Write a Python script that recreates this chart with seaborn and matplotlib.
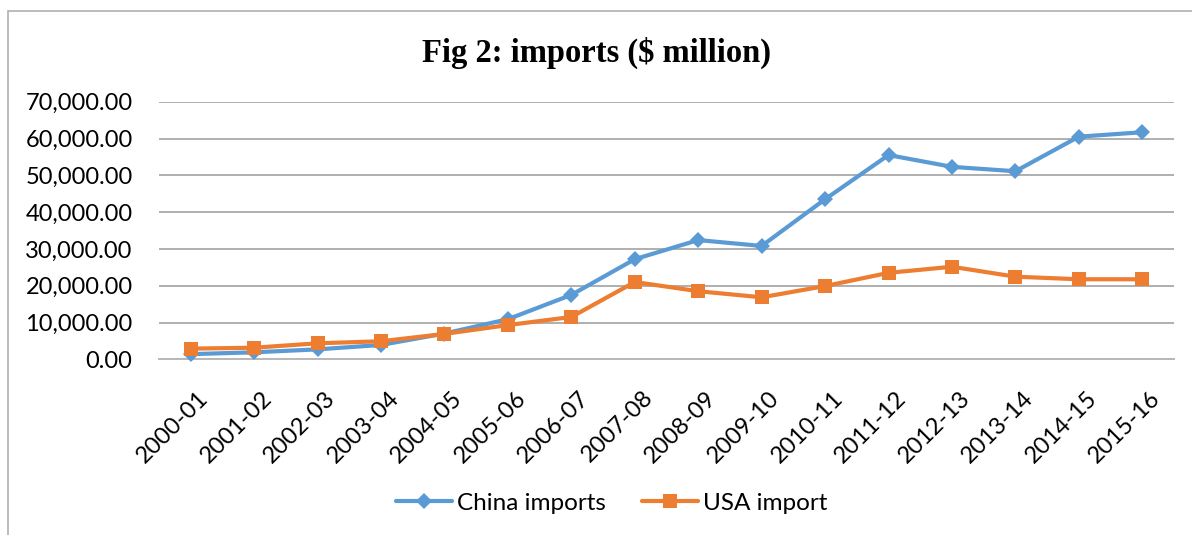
import matplotlib
matplotlib.use("Agg")
import matplotlib.pyplot as plt
import matplotlib.transforms as mtransforms
from matplotlib.patches import Rectangle
from matplotlib.ticker import FuncFormatter, MultipleLocator
import seaborn as sns
import pandas as pd

years = ["2000-01", "2001-02", "2002-03", "2003-04", "2004-05", "2005-06",
         "2006-07", "2007-08", "2008-09", "2009-10", "2010-11", "2011-12",
         "2012-13", "2013-14", "2014-15", "2015-16"]
china_imports = [1400, 1900, 2700, 3900, 7000, 10900, 17500, 27200,
                 32400, 30800, 43500, 55500, 52300, 51100, 60500, 61700]
usa_import = [2900, 3150, 4350, 4900, 6900, 9300, 11500, 21000,
              18500, 16850, 19900, 23500, 25150, 22450, 21750, 21750]
series_names = ["China imports", "USA import"]

df = pd.DataFrame({
    "year": years * 2,
    "value": china_imports + usa_import,
    "series": [series_names[0]] * len(years) + [series_names[1]] * len(years),
})

sns.set_theme(style="white")
plt.rcParams["font.family"] = ["Lato", "DejaVu Sans"]
plt.rcParams["text.color"] = "black"
plt.rcParams["xtick.color"] = "black"
plt.rcParams["ytick.color"] = "black"

fig = plt.figure(figsize=(11.92, 5.35), dpi=100)
ax = fig.add_axes([159 / 1192, 1 - 359.3 / 535, (1174 - 159) / 1192, (359.3 - 101.7) / 535])

# outer chart frame (partly off-canvas like the reference)
fig.patches.append(Rectangle((8 / 1192, -0.1), 1.2, 1 - 11 / 535 + 0.1,
                             transform=fig.transFigure, fill=False,
                             edgecolor="#b0b0b0", linewidth=1.2, zorder=0))

palette = {"China imports": "#5B9BD5", "USA import": "#ED7D31"}
markers = {"China imports": "D", "USA import": "s"}
sizes_ms = {"China imports": 8.5, "USA import": 10.5}

for name in series_names:
    sub = df[df["series"] == name]
    sns.lineplot(data=sub, x="year", y="value", ax=ax, color=palette[name],
                 marker=markers[name], markersize=sizes_ms[name],
                 markeredgewidth=0, linewidth=3.0, label=name, sort=False,
                 clip_on=False, zorder=3)

ax.set_xlim(-0.5, len(years) - 0.5)
ax.set_ylim(0, 70000)
ax.yaxis.set_major_locator(MultipleLocator(10000))
ax.yaxis.set_major_formatter(FuncFormatter(lambda v, p: f"{v:,.2f}"))
ax.grid(axis="y", color="#9a9a9a", linewidth=1.1)
ax.grid(axis="x", visible=False)
for s in ["left", "right", "top"]:
    ax.spines[s].set_visible(False)
ax.spines["bottom"].set_color("#b8b8b8")
ax.spines["bottom"].set_linewidth(1.4)
ax.set_xlabel("")
ax.set_ylabel("")
ax.tick_params(axis="y", length=0, pad=19, labelsize=17, labelcolor="black")
ax.tick_params(axis="x", length=0, pad=20, labelsize=17, labelcolor="black")
offset = mtransforms.ScaledTranslation(7 / 100, 0, fig.dpi_scale_trans)
for lab in ax.get_xticklabels():
    lab.set_rotation(45)
    lab.set_ha("right")
    lab.set_va("top")
    lab.set_rotation_mode("anchor")
    lab.set_transform(lab.get_transform() + offset)

fig.text(0.5, 1 - 53 / 535, "Fig 2: imports ($ million)", ha="center", va="center",
         fontsize=23.5, fontweight="bold", color="black",
         family=["Liberation Serif", "DejaVu Serif"])

handles, labels = ax.get_legend_handles_labels()
ax.get_legend().remove()
fig.legend(handles, labels, loc="center", bbox_to_anchor=(0.513, 1 - 503 / 535),
           ncol=2, frameon=False, fontsize=17.5, handlelength=2.3,
           handletextpad=0.2, columnspacing=1.5)

fig.savefig("out.png", dpi=100)
